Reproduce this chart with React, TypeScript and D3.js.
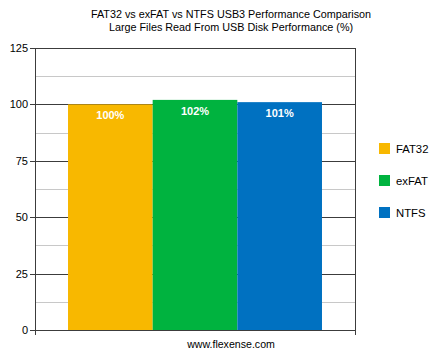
import React, { useRef, useEffect } from "react";
import * as d3 from "d3";

const W = 438;
const H = 355;

const titleLines = [
  "FAT32 vs exFAT vs NTFS USB3 Performance Comparison",
  "Large Files Read From USB Disk Performance (%)",
];
const seriesNames = ["FAT32", "exFAT", "NTFS"];
const seriesValues = [100, 102, 101];
const seriesColors = ["#F8B800", "#00B33F", "#0071C1"];
const yTicks = [0, 25, 50, 75, 100, 125];
const footer = "www.flexense.com";

const plot = { left: 35, right: 355, top: 48, bottom: 330 };
const font = "'Liberation Sans', Arial, sans-serif";

export default function App() {
  const ref = useRef<SVGSVGElement | null>(null);

  useEffect(() => {
    const svg = d3.select(ref.current);
    svg.selectAll("*").remove();

    const y = d3.scaleLinear().domain([0, 125]).range([plot.bottom, plot.top]);
    const x = d3
      .scaleBand<string>()
      .domain(seriesNames)
      .range([plot.left, plot.right])
      .paddingInner(0)
      .paddingOuter(0.39);

    svg.append("rect").attr("width", W).attr("height", H).attr("fill", "#fff");

    // title
    svg
      .selectAll("text.title")
      .data(titleLines)
      .enter()
      .append("text")
      .attr("class", "title")
      .attr("x", 231)
      .attr("y", (_, i) => 18 + i * 13)
      .attr("text-anchor", "middle")
      .attr("font-family", font)
      .attr("font-size", 10.8)
      .attr("fill", "#000")
      .text((d) => d);

    // minor grid
    const minor = d3.range(12.5, 125, 25);
    svg
      .selectAll("line.minor")
      .data(minor)
      .enter()
      .append("line")
      .attr("x1", plot.left)
      .attr("x2", plot.right)
      .attr("y1", (d) => Math.round(y(d)) + 0.5)
      .attr("y2", (d) => Math.round(y(d)) + 0.5)
      .attr("stroke", "#c8c8c8");

    // major grid + ticks
    svg
      .selectAll("line.major")
      .data(yTicks)
      .enter()
      .append("line")
      .attr("x1", plot.left - 5)
      .attr("x2", plot.right)
      .attr("y1", (d) => Math.round(y(d)) + 0.5)
      .attr("y2", (d) => Math.round(y(d)) + 0.5)
      .attr("stroke", "#3c3c3c");

    svg
      .selectAll("text.ytick")
      .data(yTicks)
      .enter()
      .append("text")
      .attr("x", plot.left - 7)
      .attr("y", (d) => y(d) + 4)
      .attr("text-anchor", "end")
      .attr("font-family", font)
      .attr("font-size", 11)
      .attr("fill", "#000")
      .text((d) => d);

    // bars
    svg
      .selectAll("rect.bar")
      .data(seriesValues)
      .enter()
      .append("rect")
      .attr("x", (_, i) => x(seriesNames[i])!)
      .attr("width", x.bandwidth())
      .attr("y", (d) => y(d))
      .attr("height", (d) => plot.bottom - y(d))
      .attr("fill", (_, i) => seriesColors[i]);

    svg
      .selectAll("text.val")
      .data(seriesValues)
      .enter()
      .append("text")
      .attr("x", (_, i) => x(seriesNames[i])! + x.bandwidth() / 2)
      .attr("y", (d) => y(d) + 15)
      .attr("text-anchor", "middle")
      .attr("font-family", font)
      .attr("font-size", 11)
      .attr("font-weight", "bold")
      .attr("fill", "#fff")
      .text((d) => d + "%");

    // axes frame
    const ax = svg.append("g").attr("stroke", "#3c3c3c").attr("fill", "none");
    ax.append("line")
      .attr("x1", plot.left + 0.5)
      .attr("x2", plot.left + 0.5)
      .attr("y1", plot.top)
      .attr("y2", plot.bottom + 5);
    ax.append("line")
      .attr("x1", plot.right + 0.5)
      .attr("x2", plot.right + 0.5)
      .attr("y1", plot.top)
      .attr("y2", plot.bottom + 5);

    // legend
    const lg = svg
      .selectAll("g.legend")
      .data(seriesNames)
      .enter()
      .append("g")
      .attr("transform", (_, i) => `translate(379,${143 + i * 32})`);
    lg.append("rect")
      .attr("width", 11)
      .attr("height", 11)
      .attr("fill", (_, i) => seriesColors[i]);
    lg.append("text")
      .attr("x", 17)
      .attr("y", 10)
      .attr("font-family", font)
      .attr("font-size", 11.3)
      .attr("fill", "#000")
      .text((d) => d);

    svg
      .append("text")
      .attr("x", 231)
      .attr("y", 348)
      .attr("text-anchor", "middle")
      .attr("font-family", font)
      .attr("font-size", 10.6)
      .attr("fill", "#000")
      .text(footer);
  }, []);

  return (
    <div style={{ position: "absolute", left: 0, top: 0 }}>
      <svg ref={ref} width={W} height={H} style={{ display: "block" }} />
    </div>
  );
}
